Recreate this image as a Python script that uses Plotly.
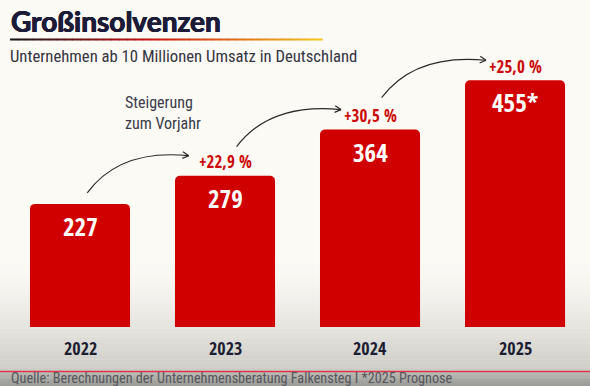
import math
import plotly.graph_objects as go

# ---------------- data ----------------
years = ["2022", "2023", "2024", "2025"]
values = [227, 279, 364, 455]
value_labels = ["227", "279", "364", "455*"]
title = "Großinsolvenzen"
subtitle = "Unternehmen ab 10 Millionen Umsatz in Deutschland"
note = "Steigerung<br>zum Vorjahr"
source = "Quelle: Berechnungen der Unternehmensberatung Falkensteg I *2025 Prognose"

# ---------------- geometry ----------------
W, H = 590, 386
MB = 59                      # bottom margin (px)
PH = H - MB                  # plot height in px
YMAX = 603.0
XMIN, XMAX = -0.5517, 3.517

COND = "Roboto Condensed, Open Sans Condensed, sans-serif"
BOLDC = "Open Sans Condensed, Roboto Condensed, sans-serif"
TITLEF = "Lato, Inter, Open Sans, sans-serif"

def px_to_data(px, py):
    x = XMIN + px / W * (XMAX - XMIN)
    y = (PH - py) / PH * YMAX
    return x, y

def data_to_px(x, y):
    px = (x - XMIN) / (XMAX - XMIN) * W
    py = PH - y / YMAX * PH
    return px, py

def paper_y(py):
    return (PH - py) / PH

xs = list(range(len(years)))

fig = go.Figure()
fig.add_trace(go.Bar(
    x=xs, y=values, width=0.69,
    marker=dict(color="#d10000", line=dict(width=0)),
    hoverinfo="skip",
))

shapes = []
annotations = []

def lerp(c1, c2, t):
    return "#%02x%02x%02x" % tuple(round(a + (b - a) * t) for a, b in zip(c1, c2))

# --- background bands (gradient toward bottom) ---
def bands(ya, yb, ca, cb, n, power=1.0):
    for k in range(n):
        a = ya + (yb - ya) * k / n
        b = ya + (yb - ya) * (k + 1) / n
        t = ((k + 0.5) / n) ** power
        shapes.append(dict(type="rect", xref="paper", yref="paper", x0=0, x1=1,
                           y0=paper_y(b + 0.4), y1=paper_y(a), fillcolor=lerp(ca, cb, t),
                           line=dict(width=0), layer="below"))

bands(255, 371, (251, 250, 245), (204, 203, 198), 30, 1.6)
bands(371, H + 2, (186, 186, 181), (150, 150, 146), 8, 1.0)
shapes.append(dict(type="line", xref="paper", yref="paper", x0=0, x1=1,
                   y0=paper_y(371.5), y1=paper_y(371.5), line=dict(color="#e0344a", width=1.6)))

# --- gradient underline under title ---
stops = [(0.0, (20, 20, 25)), (0.45, (200, 20, 20)), (1.0, (245, 200, 30))]
def grad(t):
    for (t0, c0), (t1, c1) in zip(stops[:-1], stops[1:]):
        if t <= t1:
            return lerp(c0, c1, (t - t0) / (t1 - t0))
    return lerp(stops[-1][1], stops[-1][1], 0)
UL0, UL1, NU = 10, 322, 40
for k in range(NU):
    a = UL0 + (UL1 - UL0) * k / NU
    b = UL0 + (UL1 - UL0) * (k + 1) / NU + 0.6
    shapes.append(dict(type="line", xref="paper", yref="paper", x0=a / W, x1=b / W,
                       y0=paper_y(39.5), y1=paper_y(39.5),
                       line=dict(color=grad((k + 0.5) / NU), width=2)))

# --- title texts ---
TC = "#1c1c38"
annotations.append(dict(x=9 / W, y=paper_y(21), xref="paper", yref="paper", text=f"<b>{title}</b>",
                        showarrow=False, xanchor="left", yanchor="middle",
                        font=dict(family=TITLEF, size=28, color=TC, weight=900,
                                  shadow=f"0.5px 0 0 {TC}, -0.5px 0 0 {TC}, 0 0.4px 0 {TC}")))
annotations.append(dict(x=8 / W, y=paper_y(57), xref="paper", yref="paper", text=subtitle,
                        showarrow=False, xanchor="left", yanchor="middle",
                        font=dict(family=COND, size=16.7, color="#34343e")))
annotations.append(dict(x=123 / W, y=paper_y(113), xref="paper", yref="paper", text=note,
                        showarrow=False, xanchor="left", yanchor="middle", align="left",
                        font=dict(family=COND, size=16, color="#3a3a48")))
annotations.append(dict(x=9 / W, y=paper_y(377.5), xref="paper", yref="paper", text=source,
                        showarrow=False, xanchor="left", yanchor="middle",
                        font=dict(family=COND, size=14.2, color="#55555a")))

# --- bar labels / years / percentages ---
for i, (x, v, lab, yr) in enumerate(zip(xs, values, value_labels, years)):
    annotations.append(dict(x=x, y=v, text=f"<b>{lab}</b>", showarrow=False,
                            yanchor="middle", yshift=-22,
                            font=dict(family=BOLDC, size=25, color="white")))
    annotations.append(dict(x=x, y=0, text=f"<b>{yr}</b>", showarrow=False,
                            yanchor="middle", yshift=-21,
                            font=dict(family=BOLDC, size=18, color="#1e1e32")))
    if i > 0:
        pct = (v / values[i - 1] - 1) * 100
        txt = "+" + f"{pct:.1f}".replace(".", ",") + " %"
        annotations.append(dict(x=x, y=v, text=f"<b>{txt}</b>", showarrow=False,
                                yanchor="middle", yshift=14,
                                font=dict(family=BOLDC, size=17, color="#cc0a0a")))

# --- curved arrows ---
ARROW_LIFT = [11, 29, 32]      # px above previous bar top where the arrow starts
for i in range(1, len(values)):
    sx, sy = data_to_px(xs[i - 1] + 0.05 + 0.03 * (i > 1), values[i - 1])
    sy -= ARROW_LIFT[i - 1]
    ex, ey = data_to_px(xs[i] - 0.25 + 0.05 * (i > 1), values[i])
    ey -= 20
    cx = sx + 0.32 * (ex - sx)
    cy = ey - 7
    pts = [px_to_data(px, py) for px, py in [(sx, sy), (cx, cy), (ex, ey)]]
    path = "M {},{} Q {},{} {},{}".format(pts[0][0], pts[0][1], pts[1][0], pts[1][1], pts[2][0], pts[2][1])
    shapes.append(dict(type="path", xref="x", yref="y", path=path,
                       line=dict(color="#2a2a2a", width=1.2)))
    dx, dy = ex - cx, ey - cy
    L = math.hypot(dx, dy)
    ux, uy = dx / L, dy / L
    hl = 7
    for ang in (0.5, -0.5):
        rx = -ux * math.cos(ang) + uy * math.sin(ang)
        ry = -uy * math.cos(ang) - ux * math.sin(ang)
        a0 = px_to_data(ex, ey)
        a1 = px_to_data(ex + hl * rx, ey + hl * ry)
        shapes.append(dict(type="line", xref="x", yref="y", x0=a0[0], y0=a0[1], x1=a1[0], y1=a1[1],
                           line=dict(color="#2a2a2a", width=1.2)))

fig.update_layout(
    width=W, height=H,
    margin=dict(l=0, r=0, t=0, b=MB, pad=0),
    paper_bgcolor="#fbfaf5", plot_bgcolor="rgba(0,0,0,0)",
    showlegend=False,
    barcornerradius=5,
    xaxis=dict(range=[XMIN, XMAX], visible=False, fixedrange=True),
    yaxis=dict(range=[0, YMAX], visible=False, fixedrange=True),
    shapes=shapes, annotations=annotations,
)

fig.write_html("out.html", config={"displayModeBar": False},
               post_script="document.body.style.margin='0';")
